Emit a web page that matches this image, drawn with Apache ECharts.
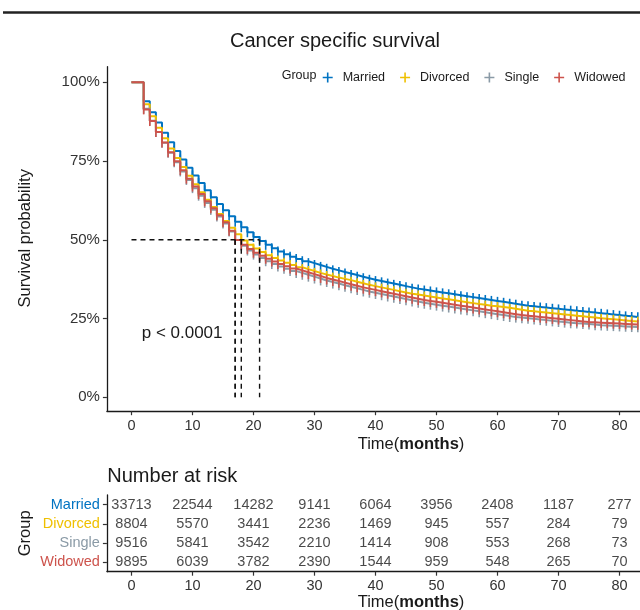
<!DOCTYPE html>
<html>
<head>
<meta charset="utf-8">
<script src="https://cdn.jsdelivr.net/npm/echarts@6/dist/echarts.min.js"></script>
<style>
html,body{margin:0;padding:0;background:#fff;}
#chart{width:640px;height:610px;}
</style>
</head>
<body>
<div id="chart"></div>
<script>
// ---------------- DATA ----------------
const groups = ['Married', 'Divorced', 'Single', 'Widowed'];
const groupColors = ['#0073C2', '#EFC000', '#8A9AA6', '#CD534C'];

const months = [
  0,1,2,3,4,5,6,7,8,9,
  10,11,12,13,14,15,16,17,18,19,
  20,21,22,23,24,25,26,27,28,29,
  30,31,32,33,34,35,36,37,38,39,
  40,41,42,43,44,45,46,47,48,49,
  50,51,52,53,54,55,56,57,58,59,
  60,61,62,63,64,65,66,67,68,69,
  70,71,72,73,74,75,76,77,78,79,
  80,81,82,83
];

const survMarried = [
  100,100,94.0,90.5,87.2,84.0,81.0,78.2,75.5,72.9,
  70.4,68.0,65.7,63.5,61.4,59.4,57.5,55.7,54.0,52.4,
  50.9,49.6,48.4,47.3,46.3,45.4,44.6,43.9,43.2,42.6,
  42.0,41.4,40.8,40.3,39.8,39.3,38.8,38.3,37.8,37.3,
  36.9,36.5,36.1,35.7,35.3,34.9,34.5,34.2,33.9,33.6,
  33.3,33.0,32.7,32.4,32.1,31.8,31.5,31.2,30.9,30.6,
  30.3,30.0,29.7,29.4,29.1,28.9,28.7,28.5,28.3,28.1,
  27.9,27.7,27.5,27.3,27.1,26.9,26.7,26.5,26.3,26.1,
  25.9,25.7,25.5,25.4
];
const survDivorced = [
  100,100,93.0,89.2,85.6,82.2,79.0,76.0,73.1,70.3,
  67.6,65.1,62.7,60.4,58.2,56.0,53.8,51.8,49.8,48.4,
  47.2,46.1,45.1,44.2,43.4,42.7,42.0,41.3,40.7,40.1,
  39.5,39.0,38.5,38.0,37.6,37.2,36.7,36.2,35.7,35.3,
  34.9,34.5,34.1,33.7,33.3,32.9,32.6,32.3,32.0,31.7,
  31.4,31.1,30.8,30.5,30.2,29.9,29.6,29.4,29.1,28.9,
  28.7,28.4,28.1,27.8,27.5,27.3,27.1,26.9,26.7,26.5,
  26.3,26.1,25.9,25.7,25.5,25.3,25.1,24.9,24.8,24.6,
  24.4,24.2,24.1,24.0
];
const survSingle = [
  100,100,91.6,87.8,84.2,80.8,77.6,74.6,71.7,69.0,
  66.4,64.0,61.7,59.5,57.4,55.2,52.6,49.9,48.1,46.6,
  45.3,44.2,43.2,42.3,41.5,40.8,40.1,39.5,38.9,38.3,
  37.7,37.1,36.6,36.1,35.6,35.1,34.6,34.1,33.6,33.2,
  32.8,32.4,32.0,31.6,31.2,30.8,30.4,30.0,29.7,29.4,
  29.1,28.8,28.5,28.2,27.9,27.6,27.3,27.0,26.7,26.4,
  26.1,25.8,25.5,25.3,25.1,24.9,24.7,24.5,24.3,24.1,
  23.9,23.7,23.5,23.4,23.3,23.1,22.9,22.8,22.7,22.6,
  22.5,22.4,22.3,22.2
];
const survWidowed = [
  100,100,91.4,87.7,84.2,80.9,77.8,74.9,72.1,69.4,
  66.9,64.5,62.2,60.0,57.8,55.6,52.9,49.9,48.4,47.1,
  45.9,44.9,44.0,43.1,42.3,41.6,40.9,40.3,39.7,39.1,
  38.5,37.9,37.4,36.9,36.4,35.9,35.4,34.9,34.5,34.1,
  33.7,33.3,32.9,32.5,32.1,31.7,31.3,30.9,30.6,30.3,
  30.0,29.7,29.4,29.1,28.8,28.5,28.2,27.9,27.6,27.3,
  27.0,26.7,26.4,26.1,25.9,25.7,25.5,25.3,25.1,24.9,
  24.7,24.5,24.3,24.1,23.9,23.8,23.7,23.6,23.5,23.4,
  23.3,23.2,23.1,23.0
];

const riskTimes = [0, 10, 20, 30, 40, 50, 60, 70, 80];
const riskMarried  = [33713, 22544, 14282, 9141, 6064, 3956, 2408, 1187, 277];
const riskDivorced = [8804, 5570, 3441, 2236, 1469, 945, 557, 284, 79];
const riskSingle   = [9516, 5841, 3542, 2210, 1414, 908, 553, 268, 73];
const riskWidowed  = [9895, 6039, 3782, 2390, 1544, 959, 548, 265, 70];

const xTicks = [0, 10, 20, 30, 40, 50, 60, 70, 80];
const yTicks = [0, 25, 50, 75, 100];

// ---------------- BUILD ----------------
const survAll = [survMarried, survDivorced, survSingle, survWidowed];
const riskAll = [riskMarried, riskDivorced, riskSingle, riskWidowed];
const FONT = 'Liberation Sans, Arial, Helvetica, sans-serif';
const INK = '#1a1a1a';

const X_MIN = -4.03, X_MAX = 83.36;
const Y_MIN = -4.41, Y_MAX = 104.95;

const series = [];

// survival curves with censor ticks
groups.forEach((g, gi) => {
  const vals = survAll[gi];
  series.push({
    type: 'line',
    name: g,
    xAxisIndex: 0,
    yAxisIndex: 0,
    step: 'end',
    animation: false,
    silent: true,
    lineStyle: { width: 2, color: groupColors[gi] },
    itemStyle: { color: groupColors[gi] },
    symbolSize: [1.6, 10],
    showSymbol: true,
    z: 3 + gi,
    data: months.map((m, i) => ({
      value: [m, vals[i]],
      symbol: i < 2 ? 'none' : 'rect'
    }))
  });
});

// median lines computed from the curves
const medians = survAll.map(vals => {
  const idx = vals.findIndex(v => v <= 50);
  return idx >= 0 ? months[idx] : null;
}).filter(v => v !== null);
const maxMed = Math.max.apply(null, medians);
const dashStyle = { color: '#111', width: 1.4, type: [5, 4] };
series.push({
  type: 'line', xAxisIndex: 0, yAxisIndex: 0, silent: true, animation: false,
  symbol: 'none', lineStyle: dashStyle, z: 10,
  data: [[0, 50], [maxMed, 50]]
});
medians.forEach(m => {
  series.push({
    type: 'line', xAxisIndex: 0, yAxisIndex: 0, silent: true, animation: false,
    symbol: 'none', lineStyle: dashStyle, z: 10,
    data: [[m, 50], [m, 0]]
  });
});

// risk table numbers
groups.forEach((g, gi) => {
  series.push({
    type: 'scatter',
    xAxisIndex: 1,
    yAxisIndex: 1,
    silent: true,
    animation: false,
    symbolSize: 0,
    label: {
      show: true,
      position: 'inside',
      color: INK,
      fontSize: 14.5,
      fontFamily: FONT,
      formatter: p => String(p.value[2])
    },
    data: riskTimes.map((t, i) => [t, g, riskAll[gi][i]])
  });
});

const axisLineStyle = { color: INK, width: 1.3 };
const tickStyle = { color: '#333', width: 1.2 };
const colorByGroup = {};
groups.forEach((g, i) => colorByGroup[g] = groupColors[i]);

const plusIcon = 'path://M0,4.2H10V5.8H0Z M4.2,0H5.8V10H4.2Z';

const option = {
  backgroundColor: '#ffffff',
  animation: false,
  textStyle: { fontFamily: FONT },
  grid: [
    { left: 106.9, top: 66.7, right: 0, height: 344.5 },
    { left: 106.9, top: 495, right: 0, height: 76.7 }
  ],
  legend: {
    data: groups,
    left: 322.7,
    top: 71,
    padding: 0,
    itemWidth: 20,
    itemHeight: 10,
    itemGap: 15,
    icon: plusIcon,
    selectedMode: false,
    textStyle: { fontSize: 12.5, color: INK, fontFamily: FONT }
  },
  xAxis: [
    {
      gridIndex: 0, type: 'value', min: X_MIN, max: X_MAX,
      axisLine: { show: true, onZero: false, lineStyle: axisLineStyle },
      axisTick: { show: true, length: 4, lineStyle: tickStyle, customValues: xTicks },
      axisLabel: { show: true, customValues: xTicks, fontSize: 14.5, color: '#333', margin: 7, fontFamily: FONT },
      splitLine: { show: false }
    },
    {
      gridIndex: 1, type: 'value', min: X_MIN, max: X_MAX,
      axisLine: { show: true, onZero: false, lineStyle: axisLineStyle },
      axisTick: { show: true, length: 4, lineStyle: tickStyle, customValues: xTicks },
      axisLabel: { show: true, customValues: xTicks, fontSize: 14.5, color: '#333', margin: 7, fontFamily: FONT },
      splitLine: { show: false }
    }
  ],
  yAxis: [
    {
      gridIndex: 0, type: 'value', min: Y_MIN, max: Y_MAX,
      axisLine: { show: true, onZero: false, lineStyle: axisLineStyle },
      axisTick: { show: true, length: 4, lineStyle: tickStyle, customValues: yTicks },
      axisLabel: { show: true, customValues: yTicks, fontSize: 15, color: '#333', margin: 7, fontFamily: FONT,
                   formatter: v => v + '%' },
      splitLine: { show: false }
    },
    {
      gridIndex: 1, type: 'category', data: groups, inverse: true,
      axisLine: { show: true, onZero: false, lineStyle: axisLineStyle },
      axisTick: { show: true, length: 4, alignWithLabel: true, interval: 0, lineStyle: tickStyle },
      axisLabel: { show: true, interval: 0, fontSize: 14.5, margin: 7, fontFamily: FONT,
                   color: v => colorByGroup[v] },
      splitLine: { show: false }
    }
  ],
  graphic: [
    { type: 'line', silent: true, shape: { x1: 3, y1: 12.5, x2: 640, y2: 12.5 },
      style: { stroke: '#222', lineWidth: 2.5 } },
    { type: 'text', silent: true, x: 335, y: 41,
      style: { text: 'Cancer specific survival', fontSize: 20, fontFamily: FONT, fill: INK,
               align: 'center', verticalAlign: 'middle' } },
    { type: 'text', silent: true, x: 281.7, y: 76,
      style: { text: 'Group', fontSize: 12.5, fontFamily: FONT, fill: INK,
               align: 'left', verticalAlign: 'middle' } },
    { type: 'text', silent: true, x: 141.7, y: 333,
      style: { text: 'p < 0.0001', fontSize: 17, fontFamily: FONT, fill: INK,
               align: 'left', verticalAlign: 'middle' } },
    { type: 'text', silent: true, x: 25.8, y: 238.3, rotation: Math.PI / 2,
      style: { text: 'Survival probability', fontSize: 16.5, fontFamily: FONT, fill: INK,
               align: 'center', verticalAlign: 'middle' } },
    { type: 'text', silent: true, x: 411, y: 444,
      style: { text: '{a|Time(}{b|months}{a|)}', align: 'center', verticalAlign: 'middle',
               rich: { a: { fontSize: 16.5, fontFamily: FONT, fill: INK, color: INK },
                       b: { fontSize: 16.5, fontFamily: FONT, fontWeight: 'bold', fill: INK, color: INK } } } },
    { type: 'text', silent: true, x: 107.3, y: 476,
      style: { text: 'Number at risk', fontSize: 20, fontFamily: FONT, fill: INK,
               align: 'left', verticalAlign: 'middle' } },
    { type: 'text', silent: true, x: 25.5, y: 533.3, rotation: Math.PI / 2,
      style: { text: 'Group', fontSize: 16.5, fontFamily: FONT, fill: INK,
               align: 'center', verticalAlign: 'middle' } },
    { type: 'text', silent: true, x: 411, y: 602,
      style: { text: '{a|Time(}{b|months}{a|)}', align: 'center', verticalAlign: 'middle',
               rich: { a: { fontSize: 16.5, fontFamily: FONT, fill: INK, color: INK },
                       b: { fontSize: 16.5, fontFamily: FONT, fontWeight: 'bold', fill: INK, color: INK } } } }
  ],
  series: series
};

const chart = echarts.init(document.getElementById('chart'), null, { renderer: 'canvas', width: 640, height: 610 });
chart.setOption(option);
</script>
</body>
</html>
